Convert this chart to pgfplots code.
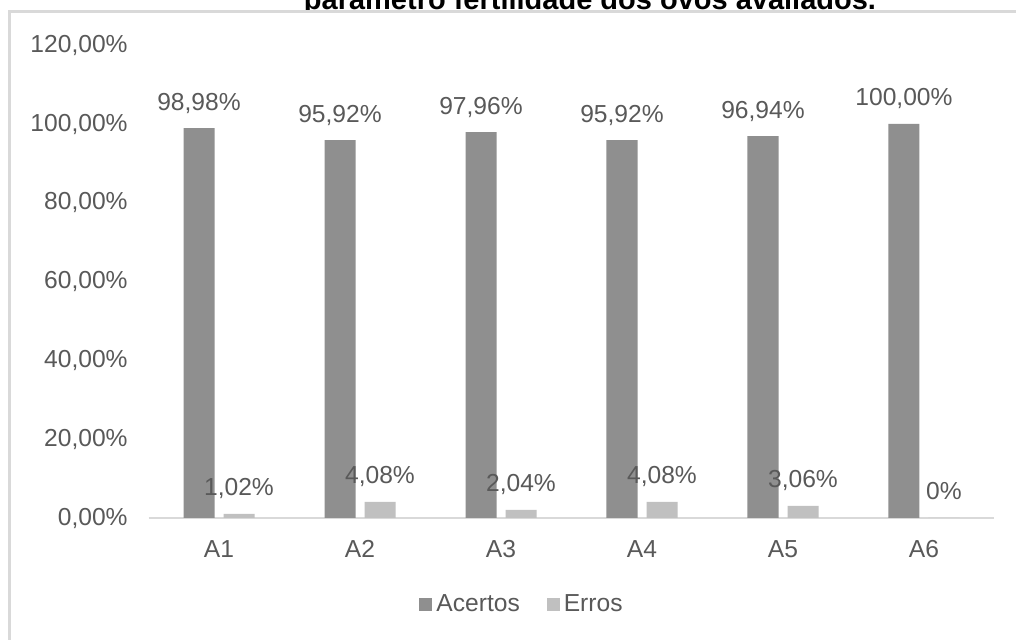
\documentclass[border=0pt]{standalone}
\usepackage{fontspec}
\setmainfont{Liberation Sans}
\usepackage{pgfplots}
\pgfplotsset{compat=1.18}
\definecolor{txt}{HTML}{595959}
\definecolor{acertos}{HTML}{8F8F8F}
\definecolor{erros}{HTML}{C0C0C0}
\definecolor{linha}{HTML}{D9D9D9}
\newcommand\lbl{\fontsize{12.3}{14}\selectfont}

\begin{document}
\begin{tikzpicture}[x=1pt,y=1pt]
\path[use as bounding box] (0,0) rectangle (508,320);
\clip (0,0) rectangle (508,320);
% title, partly hidden behind the chart area
\node[anchor=base, font=\fontsize{14.5}{17}\selectfont\bfseries, inner sep=0pt] at (295,315)
  {parâmetro fertilidade dos ovos avaliados.};
% chart area
\path[fill=white, draw=linha, line width=1.5pt] (4.5,-20) rectangle (530,314);
\begin{axis}[
  at={(74.25pt,61pt)}, anchor=south west,
  scale only axis, width=423pt, height=236.4pt,
  xmin=-0.5, xmax=5.5, ymin=0, ymax=120,
  axis x line*=bottom, axis y line*=left,
  x axis line style={draw=linha, line width=0.75pt, -},
  y axis line style={draw=none, -},
  major tick length=0pt,
  xtick={0,...,5}, xticklabels={A1,A2,A3,A4,A5,A6},
  ytick={0,20,...,120},
  yticklabels={{0,00\%},{20,00\%},{40,00\%},{60,00\%},{80,00\%},{100,00\%},{120,00\%}},
  tick label style={font=\lbl, text=txt, inner sep=0pt},
  xticklabel style={anchor=base, yshift=-20pt},
  yticklabel style={anchor=east, xshift=-10.25pt},
  ybar=4.5pt, bar width=15.5pt,
  nodes near coords, point meta=explicit symbolic,
  every node near coord/.append style={font=\lbl, text=txt, anchor=base, yshift=9pt, inner sep=0pt},
  legend style={at={(0.4427,-0.184)}, anchor=center, draw=none, fill=none,
    legend columns=2, font=\lbl, text=txt,
    /tikz/every even column/.append style={column sep=11.5pt}},
  legend image code/.code={\fill[#1] (0pt,-3.25pt) rectangle (6.5pt,3.25pt);},
]
\addplot[fill=acertos, draw=none] coordinates {
  (0,98.98) [98,98\%]
  (1,95.92) [95,92\%]
  (2,97.96) [97,96\%]
  (3,95.92) [95,92\%]
  (4,96.94) [96,94\%]
  (5,100.00) [100,00\%]
};
\addplot[fill=erros, draw=none] coordinates {
  (0,1.02) [1,02\%]
  (1,4.08) [4,08\%]
  (2,2.04) [2,04\%]
  (3,4.08) [4,08\%]
  (4,3.06) [3,06\%]
  (5,0) [0\%]
};
\legend{Acertos,Erros}
\end{axis}
\end{tikzpicture}
\end{document}
